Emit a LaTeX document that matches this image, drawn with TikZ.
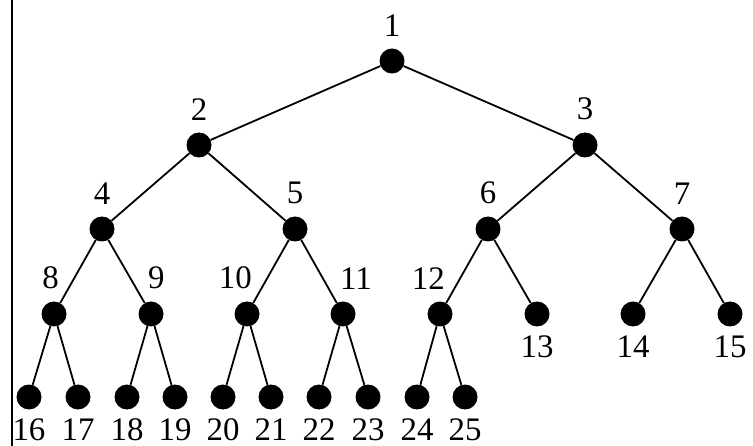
\documentclass[tikz,border=0pt]{standalone}
\usepackage{fontspec}
\setmainfont{Liberation Serif}
\usepackage{tikz}
\tikzset{
  dot/.style={circle, fill=black, inner sep=0pt, minimum size=25bp},
  lbl/.style={inner sep=0pt, font=\fontsize{33}{38}\selectfont},
  treeedge/.style={line width=1.8bp},
  up/.style={label={[lbl, label distance=12bp]90:#1}},
  dn/.style={label={[lbl, label distance=9bp]-90:#1}},
  ul/.style={label={[lbl, label distance=12bp, anchor=south east, xshift=5bp]90:#1}},
  ur/.style={label={[lbl, label distance=12bp, anchor=south west, xshift=-3bp]90:#1}}
}

\begin{document}
\begin{tikzpicture}[x=1bp, y=-1bp]
\useasboundingbox (0,0) rectangle (753,446);
\draw[line width=2bp] (11.5,0)--(11.5,446);
\foreach \n/\x/\y/\p in {1/392/61/up, 2/199/145/up, 3/585/145/up,
  4/102/229/up, 5/295/229/up, 6/488/229/up, 7/682/229/up,
  8/54/314/ul, 9/151/314/ur, 10/247/314/ul, 11/343/314/ur,
  12/440/314/ul, 13/537/314/dn, 14/633/314/dn, 15/730/314/dn,
  16/29/397/dn, 17/78/397/dn, 18/127/397/dn, 19/175/397/dn,
  20/223/397/dn, 21/271/397/dn, 22/319/397/dn, 23/368/397/dn,
  24/417/397/dn, 25/465/397/dn}
  \node[dot, \p=\n] (n\n) at (\x,\y) {};
\foreach \a/\b in {1/2, 1/3, 2/4, 2/5, 3/6, 3/7, 4/8, 4/9, 5/10, 5/11, 6/12, 6/13,
  7/14, 7/15, 8/16, 8/17, 9/18, 9/19, 10/20, 10/21, 11/22, 11/23, 12/24, 12/25}
  \draw[treeedge] (n\a) -- (n\b);
\end{tikzpicture}
\end{document}
